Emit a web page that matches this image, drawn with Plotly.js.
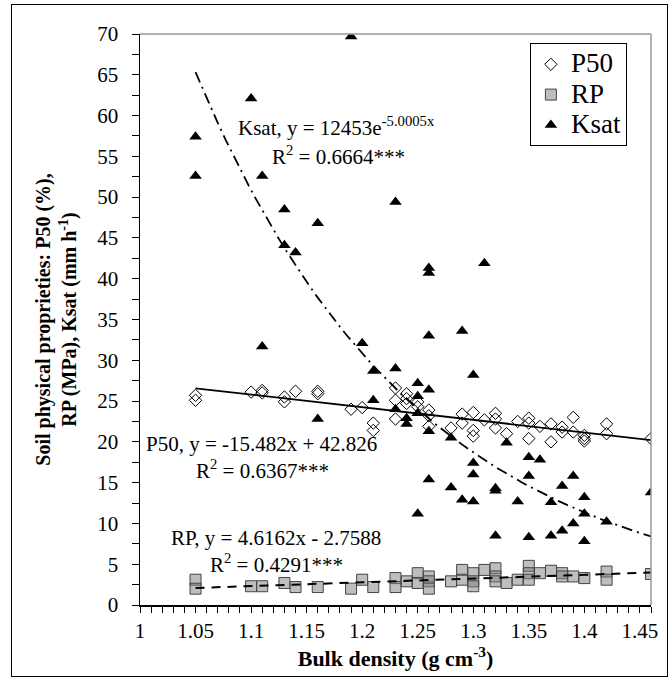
<!DOCTYPE html>
<html><head><meta charset="utf-8">
<script src="https://cdn.plot.ly/plotly-3.0.1.min.js"></script>
<style>
html,body{margin:0;padding:0;background:#fff}
#chart{width:672px;height:680px;position:absolute;left:0;top:0}
#frame{position:absolute;left:11px;top:4px;width:655px;height:671px;border:1px solid #000;pointer-events:none}
</style>
</head><body><div id="chart"></div><div id="frame"></div>
<script>
// Data
const bulkP50 = [1.05,1.05,1.10,1.11,1.11,1.13,1.13,1.14,1.16,1.16,1.19,1.20,1.21,1.21,1.23,1.23,1.23,1.24,1.24,1.24,1.25,1.25,1.26,1.26,1.26,1.28,1.29,1.29,1.30,1.30,1.30,1.31,1.32,1.32,1.32,1.33,1.34,1.35,1.35,1.35,1.36,1.37,1.37,1.38,1.38,1.39,1.39,1.40,1.40,1.40,1.42,1.42,1.46];
const p50 = [25.7,25.1,26.1,26.3,26.0,25.5,24.9,26.2,26.2,25.9,24.0,24.2,22.3,21.4,26.6,25.1,22.8,25.9,25.3,24.7,24.3,24.9,23.9,23.2,21.9,21.7,23.4,22.3,23.6,21.4,20.7,22.7,23.5,22.8,21.7,21.0,22.5,22.9,22.3,20.4,21.9,22.2,20.0,21.8,21.2,23.0,21.2,20.8,20.4,20.1,22.2,21.0,20.4];

const bulkRP = [1.05,1.05,1.10,1.11,1.13,1.14,1.16,1.19,1.20,1.21,1.23,1.23,1.24,1.25,1.25,1.26,1.26,1.26,1.28,1.29,1.29,1.30,1.30,1.30,1.31,1.32,1.32,1.32,1.33,1.34,1.35,1.35,1.35,1.36,1.37,1.38,1.38,1.39,1.40,1.42,1.42,1.46];
const rp = [3.1,2.0,2.3,2.3,2.7,2.2,2.2,2.0,3.1,2.2,3.3,2.2,2.9,3.9,2.7,3.5,2.9,2.0,2.9,4.3,3.1,3.9,2.9,2.3,4.3,4.5,3.5,2.9,2.7,3.1,4.8,3.9,3.1,3.9,4.2,3.9,3.5,3.5,3.3,4.1,3.1,3.8];

const bulkKsat = [1.05,1.05,1.10,1.11,1.11,1.13,1.13,1.14,1.16,1.16,1.19,1.20,1.21,1.21,1.23,1.23,1.23,1.24,1.24,1.25,1.25,1.25,1.25,1.26,1.26,1.26,1.26,1.26,1.26,1.28,1.28,1.29,1.29,1.30,1.30,1.30,1.30,1.31,1.32,1.32,1.32,1.33,1.34,1.35,1.35,1.35,1.36,1.37,1.37,1.38,1.38,1.39,1.39,1.40,1.40,1.40,1.42,1.46];
const ksat = [57.4,52.6,62.1,52.6,31.7,48.5,44.1,43.2,46.8,22.8,69.7,32.1,28.7,25.1,49.4,29.0,24.0,22.9,22.2,27.2,25.6,23.5,11.2,41.3,40.7,33.0,26.4,21.3,15.4,20.5,14.4,33.6,12.9,28.2,17.4,16.0,12.7,41.9,14.3,14.0,8.5,19.9,12.7,18.1,15.8,8.3,17.8,12.6,8.5,14.6,9.1,15.8,10.0,13.2,11.2,7.8,10.2,13.8];

// Fitted trend equations shown in the chart
const p50Fit = {slope: -15.482, intercept: 42.826};
const rpFit = {slope: 4.6162, intercept: -2.7588};
const ksatFit = {a: 12453, b: -5.0005};

const seriesNames = ['P50', 'RP', 'Ksat'];
const equationTexts = ['Ksat, y = 12453e<sup>-5.0005x</sup>', 'P50, y = -15.482x + 42.826', 'RP, y = 4.6162x - 2.7588'];
const r2Texts = ['R<sup>2</sup> = 0.6664***', 'R<sup>2</sup> = 0.6367***', 'R<sup>2</sup> = 0.4291***'];

function grid(xs, n) {
  const lo = Math.min(...xs), hi = Math.max(...xs);
  const out = [];
  for (let i = 0; i <= n; i++) out.push(lo + (hi - lo) * i / n);
  return out;
}
const gx = grid(bulkP50, 60);

const FONT = '"Liberation Serif", "Times New Roman", serif';
const legendLabel = s => '<span style="font-size:27px">' + s + '</span>';

const traces = [
  {x: bulkP50, y: p50, mode: 'markers', type: 'scatter', name: legendLabel(seriesNames[0]),
   marker: {symbol: 'diamond-open', size: 9.5, color: '#000', line: {width: 1, color: '#000'}}},
  {x: bulkRP, y: rp, mode: 'markers', type: 'scatter', name: legendLabel(seriesNames[1]),
   marker: {symbol: 'square', size: 11, color: 'rgba(125,125,125,0.5)', line: {width: 1, color: '#444'}}},
  {x: bulkKsat, y: ksat, mode: 'markers', type: 'scatter', name: legendLabel(seriesNames[2]),
   marker: {symbol: 'triangle-up', size: 11, color: '#000'}},
  {x: gx, y: gx.map(v => p50Fit.slope * v + p50Fit.intercept), mode: 'lines', type: 'scatter',
   showlegend: false, hoverinfo: 'skip', line: {color: '#000', width: 1.8}},
  {x: gx, y: gx.map(v => rpFit.slope * v + rpFit.intercept), mode: 'lines', type: 'scatter',
   showlegend: false, hoverinfo: 'skip', line: {color: '#000', width: 2, dash: '9px,7px'}},
  {x: gx, y: gx.map(v => ksatFit.a * Math.exp(ksatFit.b * v)), mode: 'lines', type: 'scatter',
   showlegend: false, hoverinfo: 'skip', line: {color: '#000', width: 1.8, dash: '11px,5px,2px,5px'}}
];

// annotation anchor positions (data units)
const annoPos = [
  {x1: 1.177, y1: 58.6, x2: 1.179, y2: 55.1},
  {x1: 1.109, y1: 19.7, x2: 1.110, y2: 16.6},
  {x1: 1.122, y1: 8.2, x2: 1.123, y2: 5.1}
];
const annotations = [];
annoPos.forEach((p, i) => {
  annotations.push({xref: 'x', yref: 'y', x: p.x1, y: p.y1, showarrow: false, text: equationTexts[i],
                    font: {family: FONT, size: 21, color: '#000'}});
  annotations.push({xref: 'x', yref: 'y', x: p.x2, y: p.y2, showarrow: false, text: r2Texts[i],
                    font: {family: FONT, size: 21, color: '#000'}});
});

const layout = {
  width: 672, height: 680,
  margin: {l: 140, r: 21, t: 34, b: 75},
  paper_bgcolor: '#fff', plot_bgcolor: '#fff',
  font: {family: FONT, color: '#000', size: 20},
  showlegend: true,
  legend: {x: 0.763, y: 0.984, xanchor: 'left', yanchor: 'top', bordercolor: '#000', borderwidth: 1,
           bgcolor: '#fff', font: {family: FONT, size: 21, color: '#000'}, itemwidth: 30,
           tracegroupgap: 0},
  xaxis: {
    range: [1, 1.46], tick0: 1, dtick: 0.05, tickmode: 'linear',
    showgrid: false, zeroline: false, showline: true, linecolor: '#000', linewidth: 1.5,
    ticks: 'outside', ticklen: 6, tickcolor: '#000', tickwidth: 1,
    minor: {dtick: 0.01, ticks: 'outside', ticklen: 6, tickcolor: '#000', showgrid: false},
    tickfont: {family: FONT, size: 21, color: '#000'},
    title: {text: '<b>Bulk density (g cm<sup>-3</sup>)</b>', font: {family: FONT, size: 22, color: '#000'}, standoff: 9}
  },
  yaxis: {
    range: [0, 70], tick0: 0, dtick: 5, tickmode: 'linear',
    showgrid: false, zeroline: false, showline: true, linecolor: '#000', linewidth: 1.5,
    ticks: 'outside', ticklen: 7, tickcolor: '#000', tickwidth: 1, ticklabelstandoff: 9,
    minor: {dtick: 2.5, ticks: 'outside', ticklen: 7, tickcolor: '#000', showgrid: false},
    tickfont: {family: FONT, size: 21, color: '#000'},
    title: {text: '<b>Soil physical proprieties: P50 (%),<br>RP (MPa), Ksat (mm h<sup>-1</sup>)</b>',
            font: {family: FONT, size: 20, color: '#000'}, standoff: 15}
  },
  shapes: [
    {type: 'line', xref: 'paper', yref: 'paper', x0: 0, x1: 1, y0: 1, y1: 1, line: {color: '#999', width: 1.5}},
    {type: 'line', xref: 'paper', yref: 'paper', x0: 1, x1: 1, y0: 0, y1: 1, line: {color: '#999', width: 1.5}}
  ],
  annotations: annotations
};

Plotly.newPlot('chart', traces, layout, {displayModeBar: false, staticPlot: true});
</script></body></html>
